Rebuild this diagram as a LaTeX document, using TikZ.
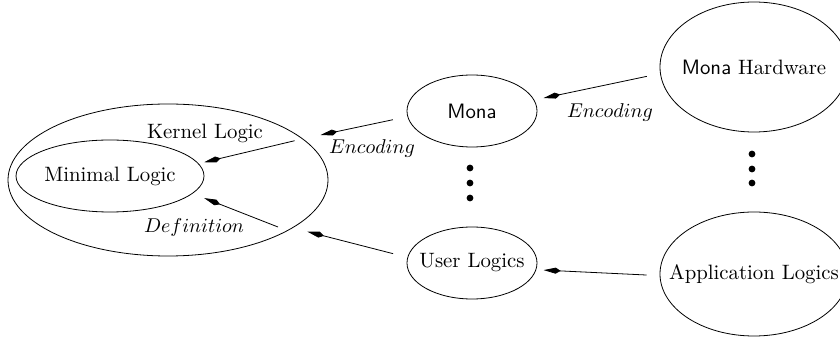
\documentclass[tikz,border=0pt]{standalone}
\usetikzlibrary{shapes.geometric,arrows.meta}
\begin{document}
\begin{tikzpicture}[x=0.5pt,y=-0.5pt,
  ell/.style={draw, ellipse, inner sep=0pt, line width=0.4pt, font=\fontsize{10.4}{12.5}\selectfont},
  lbl/.style={inner sep=0pt, font=\fontsize{10.4}{12.5}\selectfont},
  mlbl/.style={inner sep=0pt, font=\fontsize{10}{12}\selectfont},
  conn/.style={-{Kite[length=8.5pt,width=3pt,inset=2.5pt]}, line width=0.4pt},
  dot/.style={circle, fill, inner sep=0pt, minimum size=3.4pt}]
\useasboundingbox (0,0) rectangle (840,341);
% ellipses
\node[ell, minimum width=160pt, minimum height=76pt] (outer) at (168,180) {};
\node[ell, minimum width=94pt, minimum height=36pt] (inner) at (110,176) {\makebox[0pt]{Minimal Logic}};
\node[ell, minimum width=65pt, minimum height=36pt] (mona) at (472,111) {\makebox[0pt]{\sffamily Mona}};
\node[ell, minimum width=65pt, minimum height=36pt] (user) at (472,263) {\makebox[0pt]{User Logics}};
\node[ell, minimum width=94pt, minimum height=65pt] (mh) at (754,67) {\makebox[0pt]{{\sffamily Mona} Hardware}};
\node[ell, minimum width=94pt, minimum height=62pt] (app) at (754,274) {\makebox[0pt]{Application Logics}};
% labels
\node[lbl] (kernel) at (205,133) {Kernel Logic};
\node[mlbl] (defn) at (194,228) {$Definition$};
\node[mlbl] (encl) at (372,149) {$Encoding$};
\node[mlbl] (encr) at (610,113) {$Encoding$};
% dots
\node[dot] (d1) at (470,168) {};
\node[dot] (d2) at (470,183) {};
\node[dot] (d3) at (470,198) {};
\node[dot] (e1) at (752,154) {};
\node[dot] (e2) at (752,169) {};
\node[dot] (e3) at (752,183) {};
% connectors
\draw[conn, shorten <=6.8pt, shorten >=4.7pt] (mh.184) -- (mona.10);
\draw[conn, shorten <=6.5pt, shorten >=3.7pt] (app.181.6) -- (user.-6.4);
\draw[conn, shorten <=7.4pt, shorten >=9pt] (mona.185) -- (outer.17.3);
\draw[conn, shorten <=7.4pt, shorten >=7.5pt] (user.175) -- (outer.-21.5);
\draw[conn, shorten <=4.3pt, shorten >=2.8pt] (outer.17.9) -- (inner.8.6);
\draw[conn, shorten <=5.2pt, shorten >=6.2pt] (outer.-23.3) -- (inner.-12.7);
\end{tikzpicture}
\end{document}
